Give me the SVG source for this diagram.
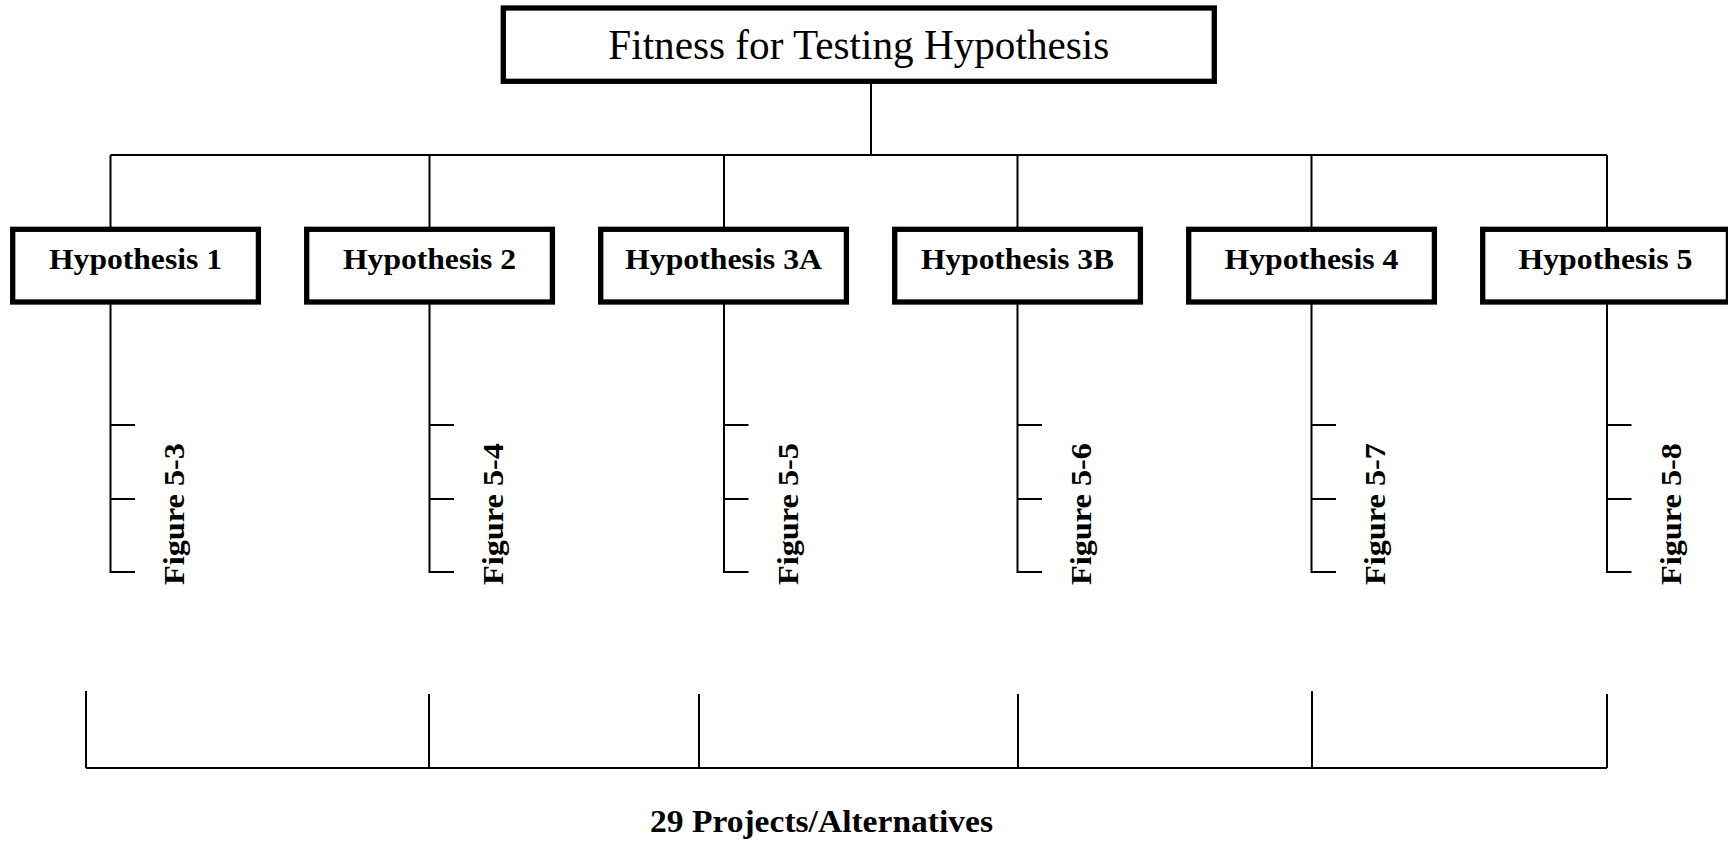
<svg xmlns="http://www.w3.org/2000/svg" width="1728" height="841" viewBox="0 0 1728 841">
  <style>
    .box { fill: #ffffff; stroke: #000000; stroke-width: 5.3; }
    .wire { fill: none; stroke: #000000; stroke-width: 2; }
    .title { font-family: "Liberation Serif", "Times New Roman", serif; font-size: 43px; fill: #000000; text-anchor: middle; }
    .hyp { font-family: "Liberation Serif", "Times New Roman", serif; font-size: 30px; font-weight: bold; fill: #000000; text-anchor: middle; }
    .fig { font-family: "Liberation Serif", "Times New Roman", serif; font-size: 30px; font-weight: bold; fill: #000000; text-anchor: middle; }
    .foot { font-family: "Liberation Serif", "Times New Roman", serif; font-size: 32px; font-weight: bold; fill: #000000; text-anchor: middle; }
  </style>
  <rect x="0" y="0" width="1728" height="841" fill="#ffffff"/>

  <!-- connectors -->
  <g id="connectors" class="wire">
    <!-- root to bus -->
    <line x1="871" y1="84" x2="871" y2="155"/>
    <line x1="110.5" y1="155" x2="1607" y2="155"/>
    <!-- bus drops to hypothesis boxes -->
    <line x1="110.5" y1="155" x2="110.5" y2="229"/>
    <line x1="429.5" y1="155" x2="429.5" y2="229"/>
    <line x1="724" y1="155" x2="724" y2="229"/>
    <line x1="1017.5" y1="155" x2="1017.5" y2="229"/>
    <line x1="1311.5" y1="155" x2="1311.5" y2="229"/>
    <line x1="1607" y1="155" x2="1607" y2="229"/>
    <!-- figure stems with ticks -->
    <path d="M110.5 302 V572 H135 M110.5 425 H135 M110.5 499 H135"/>
    <path d="M429.5 302 V572 H454 M429.5 425 H454 M429.5 499 H454"/>
    <path d="M724 302 V572 H748.5 M724 425 H748.5 M724 499 H748.5"/>
    <path d="M1017.5 302 V572 H1042 M1017.5 425 H1042 M1017.5 499 H1042"/>
    <path d="M1311.5 302 V572 H1336 M1311.5 425 H1336 M1311.5 499 H1336"/>
    <path d="M1607 302 V572 H1631.5 M1607 425 H1631.5 M1607 499 H1631.5"/>
    <!-- alternatives bracket -->
    <line x1="86" y1="768" x2="1607" y2="768"/>
    <line x1="86" y1="691" x2="86" y2="768"/>
    <line x1="429" y1="694" x2="429" y2="768"/>
    <line x1="699" y1="694" x2="699" y2="768"/>
    <line x1="1018" y1="694" x2="1018" y2="768"/>
    <line x1="1312" y1="691" x2="1312" y2="768"/>
    <line x1="1607" y1="694" x2="1607" y2="768"/>
  </g>

  <!-- root node -->
  <g id="root">
    <rect class="box" x="503.3" y="8" width="711" height="73.3"/>
    <text class="title" x="858.8" y="59" textLength="501" lengthAdjust="spacingAndGlyphs">Fitness for Testing Hypothesis</text>
  </g>

  <!-- hypothesis nodes -->
  <g id="h1">
    <rect class="box" x="12.7" y="229.3" width="245.7" height="72.7"/>
    <text class="hyp" x="135.5" y="269" textLength="173" lengthAdjust="spacingAndGlyphs">Hypothesis 1</text>
  </g>
  <g id="h2">
    <rect class="box" x="306.7" y="229.3" width="245.7" height="72.7"/>
    <text class="hyp" x="429.5" y="269" textLength="173" lengthAdjust="spacingAndGlyphs">Hypothesis 2</text>
  </g>
  <g id="h3a">
    <rect class="box" x="600.7" y="229.3" width="245.7" height="72.7"/>
    <text class="hyp" x="723.5" y="269" textLength="197" lengthAdjust="spacingAndGlyphs">Hypothesis 3A</text>
  </g>
  <g id="h3b">
    <rect class="box" x="894.7" y="229.3" width="245.7" height="72.7"/>
    <text class="hyp" x="1017.5" y="269" textLength="193" lengthAdjust="spacingAndGlyphs">Hypothesis 3B</text>
  </g>
  <g id="h4">
    <rect class="box" x="1188.7" y="229.3" width="245.7" height="72.7"/>
    <text class="hyp" x="1311.5" y="269" textLength="174" lengthAdjust="spacingAndGlyphs">Hypothesis 4</text>
  </g>
  <g id="h5">
    <rect class="box" x="1482.7" y="229.3" width="245.7" height="72.7"/>
    <text class="hyp" x="1605.5" y="269" textLength="174" lengthAdjust="spacingAndGlyphs">Hypothesis 5</text>
  </g>

  <!-- figure references -->
  <g id="fig53"><text class="fig" transform="translate(184 514) rotate(-90)" textLength="142" lengthAdjust="spacingAndGlyphs">Figure 5-3</text></g>
  <g id="fig54"><text class="fig" transform="translate(503 514) rotate(-90)" textLength="142" lengthAdjust="spacingAndGlyphs">Figure 5-4</text></g>
  <g id="fig55"><text class="fig" transform="translate(797.5 514) rotate(-90)" textLength="142" lengthAdjust="spacingAndGlyphs">Figure 5-5</text></g>
  <g id="fig56"><text class="fig" transform="translate(1091 514) rotate(-90)" textLength="142" lengthAdjust="spacingAndGlyphs">Figure 5-6</text></g>
  <g id="fig57"><text class="fig" transform="translate(1385 514) rotate(-90)" textLength="142" lengthAdjust="spacingAndGlyphs">Figure 5-7</text></g>
  <g id="fig58"><text class="fig" transform="translate(1680.5 514) rotate(-90)" textLength="142" lengthAdjust="spacingAndGlyphs">Figure 5-8</text></g>

  <!-- footer label -->
  <g id="alternatives">
    <text class="foot" x="821.5" y="832" textLength="343" lengthAdjust="spacingAndGlyphs">29 Projects/Alternatives</text>
  </g>
</svg>
